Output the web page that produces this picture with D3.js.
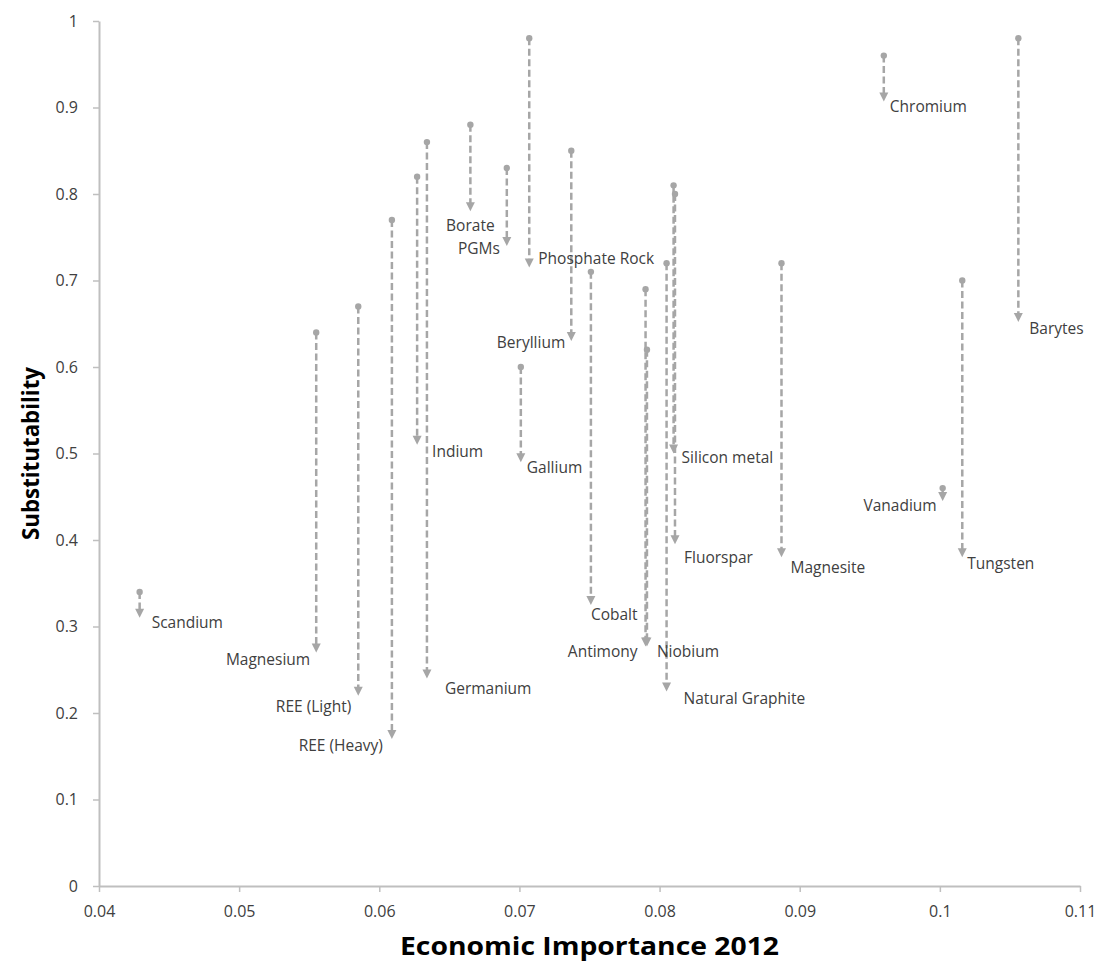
<!DOCTYPE html>
<html><head><meta charset="utf-8">
<script src="https://cdn.jsdelivr.net/npm/d3@7"></script>
<style>body{margin:0;background:#fff}svg{display:block}</style>
</head><body><svg id="c" width="1102" height="973"></svg>
<script>
// ---------- data ----------
const materials = ["Scandium","Magnesium","REE (Light)","REE (Heavy)","Indium","Germanium","Borate","PGMs","Phosphate Rock","Beryllium","Gallium","Cobalt","Antimony","Niobium","Natural Graphite","Silicon metal","Fluorspar","Magnesite","Chromium","Vanadium","Tungsten","Barytes"];
const economicImportance = [0.0429,0.0555,0.0585,0.0609,0.0627,0.0634,0.0665,0.0691,0.0707,0.0737,0.0701,0.0751,0.0790,0.0791,0.0805,0.0810,0.0811,0.0887,0.0960,0.1002,0.1016,0.1056];
const substitutabilityBefore = [0.34,0.64,0.67,0.77,0.82,0.86,0.88,0.83,0.98,0.85,0.60,0.71,0.69,0.62,0.72,0.81,0.80,0.72,0.96,0.46,0.70,0.98];
const substitutabilityAfter  = [0.31,0.27,0.22,0.17,0.51,0.24,0.78,0.74,0.715,0.63,0.49,0.325,0.277,0.277,0.225,0.50,0.395,0.38,0.907,0.445,0.38,0.652];
const xTicks = [0.04,0.05,0.06,0.07,0.08,0.09,0.10,0.11];
const xTickLabels = ["0.04","0.05","0.06","0.07","0.08","0.09","0.1","0.11"];
const yTicks = [0,0.1,0.2,0.3,0.4,0.5,0.6,0.7,0.8,0.9,1];
const yTickLabels = ["0","0.1","0.2","0.3","0.4","0.5","0.6","0.7","0.8","0.9","1"];
const xTitle = "Economic Importance 2012";
const yTitle = "Substitutability";

// ---------- layout (label placement relative to arrow tip) ----------
const labelPlacement = {
  "Scandium":["start",12,4], "Magnesium":["end",-6,7], "REE (Light)":["end",-7,10],
  "REE (Heavy)":["end",-9,6], "Indium":["start",15,6], "Germanium":["start",18,10],
  "Borate":["middle",0,14], "PGMs":["end",-7,2], "Phosphate Rock":["start",9,-10],
  "Beryllium":["end",-6,1], "Gallium":["start",6,5], "Cobalt":["start",0,9],
  "Antimony":["end",-8,5], "Niobium":["start",10,5], "Natural Graphite":["start",17,7],
  "Silicon metal":["start",8,3], "Fluorspar":["start",9,13], "Magnesite":["start",9,10],
  "Chromium":["start",6,5], "Vanadium":["end",-6,4], "Tungsten":["start",5,6], "Barytes":["start",11,6]
};

const svg = d3.select("#c");
const x = d3.scaleLinear().domain([0.04,0.11]).range([99,1080]);
const y = d3.scaleLinear().domain([0,1]).range([886,21]);
const axisColor = "#bfbfbf", arrowColor = "#a6a6a6", textColor = "#404040";
const font = "'Open Sans', sans-serif";

// axes
const gx = svg.append("g").attr("transform",`translate(0,${y(0)})`)
  .call(d3.axisBottom(x).tickValues(xTicks).tickFormat((d,i)=>xTickLabels[i]).tickSizeInner(6).tickSizeOuter(0).tickPadding(14));
const gy = svg.append("g").attr("transform",`translate(${x(0.04)},0)`)
  .call(d3.axisLeft(y).tickValues(yTicks).tickFormat((d,i)=>yTickLabels[i]).tickSizeInner(6).tickSizeOuter(0).tickPadding(15));
[gx,gy].forEach(g=>{
  g.select(".domain").attr("stroke",axisColor).attr("stroke-width",2);
  g.selectAll(".tick line").attr("stroke",axisColor).attr("stroke-width",1.5);
  g.selectAll(".tick text").attr("fill",textColor).style("font-family",font).style("font-size","16px");
});

// arrows
const data = materials.map((m,i)=>({name:m, x:economicImportance[i], y0:substitutabilityBefore[i], y1:substitutabilityAfter[i]}));
const head = 9, halfW = 4.5;
const g = svg.append("g");
data.forEach(d=>{
  const px = x(d.x), p0 = y(d.y0), p1 = y(d.y1);
  const dir = p1 > p0 ? 1 : -1;
  g.append("line").attr("x1",px).attr("x2",px).attr("y1",p0).attr("y2",p1 - dir*(head-1))
    .attr("stroke",arrowColor).attr("stroke-width",2.5).attr("stroke-dasharray","7,3.5");
  g.append("circle").attr("cx",px).attr("cy",p0).attr("r",3.2).attr("fill",arrowColor);
  g.append("path").attr("d",`M${px-halfW},${p1-dir*head}L${px+halfW},${p1-dir*head}L${px},${p1}Z`).attr("fill",arrowColor);
});

// labels
data.forEach(d=>{
  const pl = labelPlacement[d.name];
  svg.append("text").attr("x",x(d.x)+pl[1]).attr("y",y(d.y1)+pl[2])
    .attr("text-anchor",pl[0]).attr("dominant-baseline","central")
    .attr("fill",textColor).style("font-family",font).style("font-size","15.5px").text(d.name);
});

// titles
svg.append("text").attr("x",(x(0.04)+x(0.11))/2).attr("y",955).attr("text-anchor","middle")
  .attr("textLength",379).attr("lengthAdjust","spacingAndGlyphs")
  .style("font-family",font).style("font-weight","bold").style("font-size","25px").attr("fill","#000").text(xTitle);
svg.append("text").attr("transform",`translate(39,${(y(0)+y(1))/2}) rotate(-90)`).attr("text-anchor","middle")
  .attr("textLength",173).attr("lengthAdjust","spacingAndGlyphs")
  .style("font-family",font).style("font-weight","bold").style("font-size","23px").attr("fill","#000").text(yTitle);
</script>
</body></html>
